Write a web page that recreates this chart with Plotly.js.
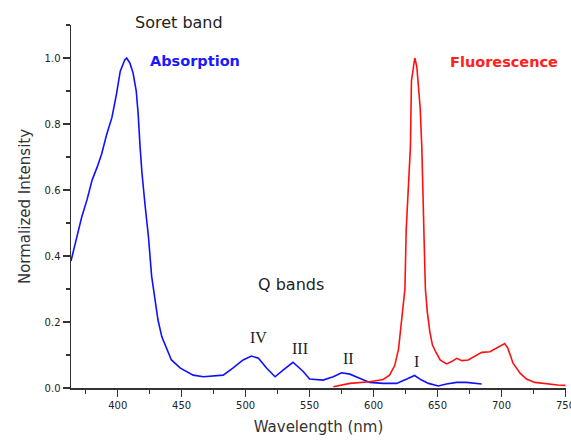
<!DOCTYPE html>
<html>
<head>
<meta charset="utf-8">
<script src="https://cdn.plot.ly/plotly-3.0.1.min.js"></script>
<style>html,body{margin:0;padding:0;background:#fff;}#chart{width:571px;height:441px;}</style>
</head>
<body>
<div id="chart"></div>
<script>
// Absorption spectrum (blue)
const absWavelength = [363.5,368,372,376,380,384,387.5,391.5,395.5,399,402,405.5,407,409.5,412,414.5,416,417.5,419,421.5,424,426.5,429,431.5,434.5,438.5,442,449,459,467,482.5,490,498,504.5,510,516.5,523,529.5,537,545,550,560.5,568.5,575,581.5,589.5,597,607.5,618,626,632,637.5,643,650.5,657,665,672.5,684.5];
const absIntensity = [0.385,0.458,0.52,0.57,0.63,0.67,0.71,0.77,0.82,0.89,0.96,0.994,1.0,0.985,0.955,0.90,0.83,0.73,0.65,0.55,0.46,0.34,0.267,0.206,0.155,0.115,0.085,0.06,0.039,0.034,0.039,0.06,0.085,0.097,0.09,0.06,0.034,0.055,0.078,0.05,0.027,0.024,0.034,0.046,0.042,0.029,0.017,0.014,0.014,0.027,0.038,0.024,0.014,0.006,0.012,0.017,0.017,0.012];

// Fluorescence spectrum (red)
const fluoWavelength = [568.5,575,581.5,597,607.5,612.5,616.5,619.5,622,624.5,625.5,627,628.8,629.6,631,632.2,633.8,636.4,637.7,638.5,639.5,640.5,642,644,646,648.5,652,657,661,665,669,674,679,684.5,691,696,702.5,705,709,714.5,719.5,726,735,744,750];
const fluoIntensity = [0.004,0.01,0.014,0.019,0.026,0.039,0.068,0.118,0.2,0.3,0.48,0.6,0.73,0.93,0.974,1.0,0.974,0.85,0.73,0.63,0.45,0.3,0.23,0.17,0.13,0.11,0.085,0.073,0.08,0.09,0.083,0.085,0.095,0.108,0.11,0.12,0.135,0.12,0.075,0.045,0.027,0.017,0.012,0.009,0.008];

// Text labels (positions in paper coordinates of the plot area)
const labelTexts = ["Soret band","Absorption","Fluorescence","Q bands","IV","III","II","I"];
const labelX = [0.218,0.25,0.874,0.444,0.378,0.463,0.56,0.698];
const labelY = [1.006,0.901,0.899,0.284,0.138,0.110,0.080,0.073];

const sans = "DejaVu Sans, Verdana, sans-serif";
const serif = "Liberation Serif, Times New Roman, serif";
const labelFonts = [
  {family: sans, size: 16, color: "#222"},
  {family: sans, size: 14.5, color: "#1a1aff", weight: "bold"},
  {family: sans, size: 14.5, color: "#ff2020", weight: "bold"},
  {family: sans, size: 16, color: "#222"},
  {family: serif, size: 16, color: "#222"},
  {family: serif, size: 16, color: "#222"},
  {family: serif, size: 16, color: "#222"},
  {family: serif, size: 16, color: "#222"}
];

const traces = [
  {x: absWavelength, y: absIntensity, type: "scatter", mode: "lines",
   line: {color: "#1010ff", width: 1.6}, hoverinfo: "skip"},
  {x: fluoWavelength, y: fluoIntensity, type: "scatter", mode: "lines",
   line: {color: "#ff1010", width: 1.6}, hoverinfo: "skip"}
];

const annotations = labelTexts.map((t, i) => ({
  text: labelFonts[i].weight === "bold" ? "<b>" + t + "</b>" : t,
  x: labelX[i], y: labelY[i], xref: "paper", yref: "paper",
  showarrow: false, xanchor: "center", yanchor: "middle",
  font: {family: labelFonts[i].family, size: labelFonts[i].size, color: labelFonts[i].color}
}));

const layout = {
  width: 571, height: 441,
  margin: {l: 71, r: 5, t: 25, b: 53},
  paper_bgcolor: "#fff", plot_bgcolor: "#fff",
  showlegend: false,
  xaxis: {
    range: [363.5, 750.4], showgrid: false, zeroline: false,
    showline: true, linecolor: "#333", linewidth: 1.5,
    ticks: "outside", ticklen: 7, tickwidth: 1.5, tickcolor: "#333",
    tick0: 400, dtick: 50, ticklabeloverflow: "allow",
    minor: {dtick: 25, tick0: 375, ticks: "outside", ticklen: 4, tickwidth: 1.5, tickcolor: "#333"},
    tickfont: {family: sans, size: 10, color: "#222"},
    title: {text: "Wavelength (nm)", font: {family: sans, size: 15, color: "#333"}, standoff: 12}
  },
  yaxis: {
    range: [0, 1.1], showgrid: false, zeroline: false,
    showline: true, linecolor: "#333", linewidth: 1.5,
    ticks: "outside", ticklen: 7, tickwidth: 1.5, tickcolor: "#333",
    tick0: 0, dtick: 0.2, tickformat: ".1f",
    minor: {dtick: 0.1, ticks: "outside", ticklen: 4, tickwidth: 1.5, tickcolor: "#333"},
    tickfont: {family: sans, size: 10, color: "#222"},
    title: {text: "Normalized Intensity", font: {family: sans, size: 15, color: "#333"}, standoff: 10}
  },
  annotations: annotations
};

Plotly.newPlot("chart", traces, layout, {staticPlot: true, displayModeBar: false});
</script>
</body>
</html>
